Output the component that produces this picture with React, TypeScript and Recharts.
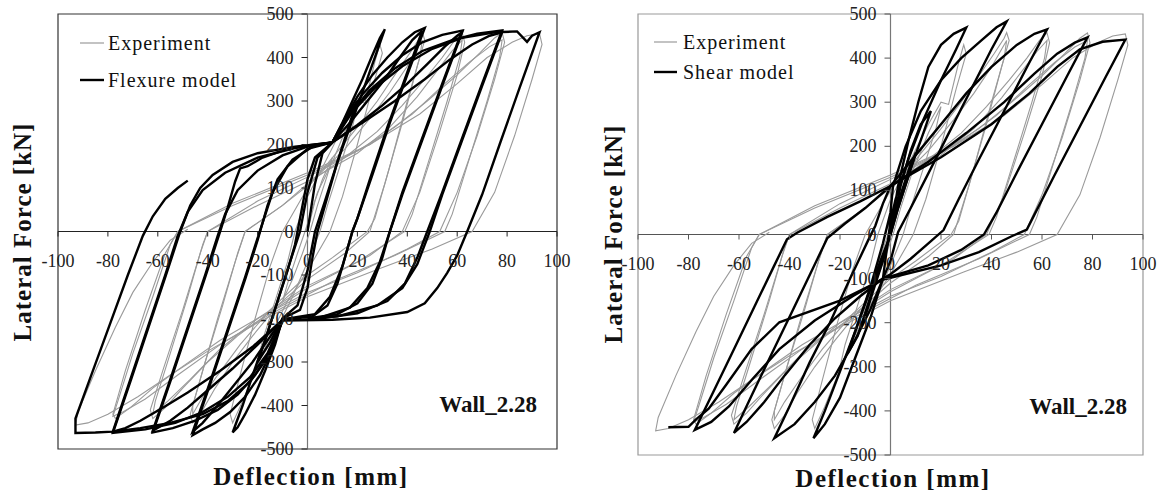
import { LineChart, Line, XAxis, YAxis, ReferenceLine, ReferenceArea } from 'recharts';

// ---------- axis ticks ----------
const X_TICKS = [-100, -80, -60, -40, -20, 0, 20, 40, 60, 80, 100];
const Y_TICKS = [-500, -400, -300, -200, -100, 0, 100, 200, 300, 400, 500];

// ---------- experiment (grey), same test in both panels ----------
const exp10 = [[0, 0], [3, 70], [6, 120], [10, 170], [8, 130], [4, 60], [1, 0], [-2, -50], [-6, -110], [-10, -160], [-8, -120], [-4, -50], [-1, 0]];
const exp20 = [[-1, 0], [4, 90], [10, 160], [15, 230], [20, 290], [18, 240], [13, 150], [8, 60], [5, 0], [0, -70], [-6, -150], [-12, -220], [-17, -270], [-20, -300], [-18, -250], [-13, -160], [-8, -70], [-5, 0]];
const exp30 = [[-5, 0], [0, 80], [8, 170], [15, 250], [20, 300], [23, 295], [27, 390], [29, 430], [30, 410], [26, 330], [20, 200], [14, 80], [9, 0], [0, -90], [-8, -160], [-15, -240], [-21, -320], [-26, -390], [-30, -440], [-31, -420], [-27, -330], [-21, -200], [-15, -80], [-10, 0]];
const exp46 = [[-10, 0], [0, 100], [10, 170], [20, 240], [28, 300], [35, 360], [41, 410], [45, 445], [46, 458], [47, 440], [44, 380], [38, 250], [31, 110], [25, 0], [15, -50], [0, -110], [-12, -170], [-22, -240], [-30, -300], [-37, -360], [-42, -410], [-46, -440], [-47, -420], [-43, -340], [-36, -200], [-29, -70], [-25, 0]];
const exp46b = [[-25, 0], [-10, 60], [0, 105], [15, 190], [25, 260], [33, 320], [40, 380], [44, 420], [46, 440], [45, 400], [40, 300], [33, 150], [27, 30], [24, 0], [10, -60], [0, -100], [-15, -180], [-27, -260], [-36, -330], [-42, -380], [-46, -420], [-46, -400], [-41, -300], [-34, -170], [-28, -50], [-25, 0]];
const exp62 = [[-25, 0], [-10, 60], [0, 110], [15, 170], [28, 230], [38, 290], [47, 350], [54, 400], [59, 440], [62, 457], [63, 435], [60, 360], [53, 230], [45, 90], [38, 0], [25, -55], [10, -100], [0, -130], [-15, -185], [-28, -240], [-40, -300], [-50, -360], [-57, -405], [-62, -430], [-63, -410], [-58, -320], [-50, -180], [-43, -50], [-40, 0]];
const exp62b = [[-40, 0], [-20, 60], [0, 115], [20, 180], [33, 240], [44, 310], [52, 370], [58, 415], [62, 440], [61, 400], [56, 300], [49, 170], [42, 40], [39, 0], [20, -70], [0, -125], [-20, -200], [-35, -270], [-47, -340], [-56, -390], [-62, -420], [-61, -390], [-55, -280], [-48, -150], [-42, -30], [-40, 0]];
const exp78 = [[-40, 0], [-20, 70], [0, 125], [20, 185], [35, 240], [48, 300], [60, 360], [69, 410], [75, 445], [78, 457], [79, 435], [75, 350], [68, 220], [60, 90], [53, 0], [40, -40], [20, -95], [0, -140], [-20, -200], [-35, -250], [-50, -310], [-62, -360], [-71, -405], [-77, -430], [-78, -420], [-73, -320], [-65, -180], [-57, -50], [-52, 0]];
const exp78b = [[-52, 0], [-30, 60], [0, 130], [25, 200], [42, 270], [55, 340], [65, 390], [73, 425], [78, 440], [77, 400], [72, 300], [65, 170], [58, 40], [55, 0], [35, -55], [10, -115], [-15, -190], [-35, -260], [-52, -330], [-65, -385], [-74, -415], [-78, -425], [-76, -390], [-70, -280], [-62, -150], [-55, -30], [-52, 0]];
const exp93 = [[-52, 0], [-30, 65], [0, 135], [25, 200], [45, 270], [60, 340], [72, 400], [82, 435], [88, 450], [93, 455], [94, 430], [90, 350], [83, 220], [75, 90], [66, 0], [50, -40], [29, -85], [0, -150], [-20, -210], [-40, -275], [-55, -330], [-68, -380], [-80, -420], [-88, -440], [-93, -445], [-92, -415], [-85, -320], [-77, -220], [-70, -140], [-62, -70], [-55, -20], [-48, 5]];
const experimentCycles = [exp10, exp20, exp30, exp46, exp46b, exp62, exp62b, exp78, exp78b, exp93];

// ---------- flexure model (left panel, black) ----------
const flex0 = [[0, 0], [3, 110], [6, 180], [10, 205]];
const flex20 = [[10, 205], [15, 255], [20, 300], [17, 250], [12, 160], [7, 70], [3, 0], [0, -90], [-4, -170], [-10, -200], [-15, -255], [-20, -300], [-17, -250], [-12, -160], [-7, -70], [-3, 0], [0, 90], [4, 170], [10, 205]];
const flex30 = [[10, 205], [14, 250], [18, 300], [22, 350], [26, 405], [29, 445], [31, 465], [27, 400], [22, 320], [17, 240], [12, 160], [8, 80], [5, 20], [4, 0], [2, -60], [0, -130], [-3, -180], [-10, -200], [-13, -260], [-17, -320], [-21, -375], [-25, -420], [-28, -450], [-30, -462], [-26, -400], [-22, -330], [-17, -250], [-12, -160], [-8, -90], [-5, -30], [-4, 0], [-2, 60], [0, 120], [3, 170], [10, 205]];
const flex46 = [[10, 205], [15, 260], [20, 310], [26, 360], [32, 400], [38, 435], [43, 458], [47, 468], [40, 360], [33, 250], [26, 130], [20, 30], [18, 0], [15, -60], [12, -120], [8, -170], [2, -195], [-10, -202], [-14, -270], [-19, -330], [-25, -380], [-31, -415], [-37, -440], [-42, -455], [-46, -468], [-39, -350], [-32, -230], [-25, -110], [-20, -20], [-19, 0], [-16, 60], [-12, 120], [-6, 165], [2, 195], [10, 205]];
const flex46b = [[10, 205], [17, 250], [24, 300], [31, 350], [37, 400], [42, 440], [46, 462], [39, 350], [32, 240], [25, 120], [20, 30], [18, 0], [14, -80], [9, -150], [3, -190], [-10, -202], [-16, -250], [-22, -300], [-29, -350], [-36, -400], [-42, -440], [-46, -460], [-39, -345], [-32, -225], [-25, -105], [-20, -15], [-18, 20], [-14, 90], [-8, 150], [0, 190], [10, 205]];
const flex62 = [[10, 205], [16, 265], [22, 315], [30, 365], [38, 405], [46, 435], [54, 452], [62, 462], [54, 340], [46, 215], [38, 90], [33, 0], [30, -60], [26, -120], [20, -165], [12, -190], [0, -200], [-10, -203], [-15, -275], [-21, -330], [-28, -375], [-36, -410], [-45, -435], [-54, -452], [-62, -462], [-55, -345], [-48, -225], [-41, -105], [-35, 0], [-32, 55], [-29, 115], [-27, 145], [-24, 150], [-18, 170], [-8, 190], [0, 198], [10, 205]];
const flex62b = [[10, 205], [20, 245], [30, 290], [40, 340], [48, 385], [55, 425], [60, 450], [62, 458], [54, 335], [46, 210], [38, 85], [33, 0], [29, -70], [24, -130], [17, -175], [5, -198], [-10, -203], [-20, -260], [-30, -315], [-40, -365], [-48, -405], [-55, -435], [-62, -458], [-55, -340], [-48, -220], [-41, -100], [-36, -10], [-33, 40], [-28, 95], [-20, 140], [-10, 175], [0, 195], [10, 205]];
const flex78 = [[10, 205], [17, 270], [25, 325], [35, 375], [46, 415], [58, 440], [68, 455], [78, 462], [70, 340], [62, 215], [54, 90], [48, 0], [44, -60], [39, -120], [32, -160], [20, -188], [5, -200], [-10, -203], [-16, -280], [-23, -335], [-32, -380], [-42, -415], [-53, -440], [-65, -455], [-78, -463], [-71, -345], [-64, -225], [-57, -105], [-51, 0], [-47, 60], [-43, 100], [-38, 130], [-30, 160], [-20, 180], [-5, 195], [10, 205]];
const flex78b = [[10, 205], [22, 250], [35, 300], [47, 350], [57, 395], [66, 430], [73, 450], [78, 458], [70, 335], [62, 210], [54, 85], [49, 0], [44, -75], [38, -130], [28, -170], [12, -195], [-10, -203], [-22, -265], [-35, -320], [-48, -370], [-58, -405], [-67, -435], [-73, -452], [-78, -460], [-71, -340], [-64, -220], [-57, -100], [-52, -10], [-48, 45], [-42, 95], [-33, 135], [-20, 170], [-5, 192], [10, 205]];
const flex93 = [[10, 205], [18, 275], [27, 330], [38, 380], [50, 420], [62, 445], [75, 458], [84, 460], [88, 436], [90, 450], [93, 458], [85, 330], [77, 200], [70, 85], [64, 0], [60, -55], [56, -95], [52, -130], [47, -165], [40, -185], [25, -198], [10, -203], [-10, -205], [-16, -290], [-23, -345], [-32, -390], [-42, -420], [-55, -440], [-67, -452], [-78, -460], [-85, -462], [-93, -463], [-93, -430], [-86, -320], [-79, -210], [-72, -100], [-66, -10], [-62, 35], [-57, 75], [-52, 100], [-48, 117]];
const flexureCycles = [flex0, flex20, flex30, flex46, flex46b, flex62, flex62b, flex78, flex78b, flex93];

// ---------- shear model (right panel, black) ----------
const shear10 = [[0, 0], [4, 90], [8, 160], [10, 185], [7, 130], [3, 60], [0, 0], [-3, -60], [-7, -130], [-10, -185], [-7, -130], [-3, -60], [0, 0]];
const shear20 = [[0, 0], [4, 110], [8, 190], [12, 250], [16, 280], [13, 230], [8, 150], [3, 60], [0, 0], [-4, -70], [-9, -160], [-13, -230], [-17, -270], [-14, -220], [-9, -140], [-4, -60], [0, 0]];
const shear30 = [[0, 0], [3, 110], [7, 210], [11, 300], [15, 380], [20, 430], [25, 455], [30, 469], [26, 420], [20, 350], [13, 260], [7, 170], [2, 80], [0, 30], [-3, -100], [-8, -190], [-14, -280], [-20, -370], [-26, -430], [-30.5, -462], [-26, -400], [-20, -310], [-14, -220], [-8, -120], [-3, -20], [0, 50], [1, 110]];
const shear46 = [[1, 110], [6, 200], [12, 280], [20, 350], [28, 400], [36, 440], [42, 470], [46, 483], [40, 420], [32, 330], [24, 240], [16, 150], [8, 60], [3, 5], [0, -60], [-3, -100], [-8, -170], [-15, -250], [-22, -320], [-30, -380], [-38, -430], [-46, -462], [-40, -390], [-32, -290], [-24, -200], [-16, -100], [-9, -15], [-6, 20], [-3, 70], [0, 110]];
const shear62 = [[0, 110], [10, 180], [20, 250], [30, 320], [40, 380], [50, 430], [57, 455], [62, 465], [55, 390], [45, 280], [35, 170], [27, 80], [21, 10], [15, -20], [8, -55], [0, -90], [-3, -100], [-12, -140], [-22, -190], [-32, -250], [-42, -320], [-50, -380], [-57, -425], [-62, -450], [-55, -365], [-47, -270], [-39, -175], [-31, -80], [-25, -8], [-18, 25], [-10, 60], [0, 110]];
const shear78 = [[0, 110], [15, 165], [30, 230], [45, 300], [57, 365], [66, 410], [73, 435], [78, 447], [70, 360], [60, 250], [50, 140], [42, 50], [37, 0], [28, -35], [15, -70], [0, -95], [-3, -100], [-15, -140], [-30, -195], [-44, -260], [-55, -330], [-64, -390], [-71, -425], [-77.5, -443], [-70, -355], [-62, -260], [-54, -165], [-46, -70], [-41, -11], [-37, 4], [-25, 40], [-12, 75], [0, 110]];
const shear93 = [[0, 110], [20, 175], [40, 250], [55, 320], [66, 380], [75, 420], [84, 437], [93, 442], [85, 355], [75, 245], [65, 135], [57, 45], [54, 11], [48, -4], [35, -40], [20, -70], [0, -98], [-3, -102], [-20, -150], [-44, -199], [-55, -260], [-65, -340], [-72, -395], [-77, -419], [-80, -436], [-88, -437]];
const shearCycles = [shear10, shear20, shear30, shear46, shear62, shear78, shear93];

const FONT = "'Liberation Serif', 'DejaVu Serif', Tinos, 'Nimbus Roman', 'FreeSerif', 'Noto Serif', Georgia, 'Times New Roman', serif";
const GREY = '#9a9a9a';

const toPoints = (arr: number[][]) => arr.map(([x, y]) => ({ x, y }));

function Panel({ left, width, margin, plotW, plotH, models, boxColor, axisColor }: any) {
  // the axes cross at the origin, so ticks are drawn at the zero lines
  const zeroX = margin.left + 30 + plotW / 2;
  const zeroY = margin.top + plotH / 2;

  const renderXTick = (props: any) => {
    const { x, payload } = props;
    return (
      <g key={'xt' + payload.value}>
        <line x1={x} x2={x} y1={zeroY} y2={zeroY + 5} stroke={axisColor} strokeWidth={1} />
        <text x={x} y={zeroY + 35} textAnchor="middle" fontFamily={FONT} fontSize={18} fill="#222">
          {payload.value}
        </text>
      </g>
    );
  };

  const renderYTick = (props: any) => {
    const { y, payload } = props;
    return (
      <g key={'yt' + payload.value}>
        <line x1={zeroX - 6} x2={zeroX} y1={y} y2={y} stroke={axisColor} strokeWidth={1} />
        <text x={zeroX - 14} y={y + 6} textAnchor="end" fontFamily={FONT} fontSize={18} fill="#222">
          {payload.value}
        </text>
      </g>
    );
  };

  return (
    <div style={{ position: 'absolute', left, top: 0 }}>
      <LineChart width={width} height={492} margin={margin}>
        <XAxis dataKey="x" type="number" domain={[-100, 100]} ticks={X_TICKS} interval={0} height={30}
          axisLine={false} tickLine={false} tick={renderXTick} allowDataOverflow />
        <YAxis type="number" domain={[-500, 500]} ticks={Y_TICKS} interval={0} width={30}
          axisLine={false} tickLine={false} tick={renderYTick} allowDataOverflow />
        <ReferenceArea x1={-100} x2={100} y1={-500} y2={500} fill="none" fillOpacity={0} stroke={boxColor} strokeWidth={1.2} />
        <ReferenceLine x={0} stroke="#777" strokeWidth={1.2} />
        <ReferenceLine y={0} stroke={axisColor} strokeWidth={1.2} />
        {experimentCycles.map((c, i) => (
          <Line key={'e' + i} data={toPoints(c)} dataKey="y" type="linear" stroke={GREY} strokeWidth={1.1}
            dot={false} activeDot={false} isAnimationActive={false} />
        ))}
        {models.map((c: number[][], i: number) => (
          <Line key={'m' + i} data={toPoints(c)} dataKey="y" type="linear" stroke="#000" strokeWidth={2.4}
            dot={false} activeDot={false} isAnimationActive={false} />
        ))}
      </LineChart>
    </div>
  );
}

export default function App() {
  return (
    <div style={{ position: 'absolute', left: 0, top: 0, width: 1163, height: 492, background: '#fff' }}>
      <Panel left={0} width={580} margin={{ top: 14, right: 23, bottom: 13, left: 28 }} plotW={499} plotH={435}
        models={flexureCycles} boxColor="#333" axisColor="#222" />
      <Panel left={580} width={583} margin={{ top: 14, right: 20, bottom: 7, left: 28 }} plotW={505} plotH={441}
        models={shearCycles} boxColor="#999" axisColor="#555" />

      <svg width={1163} height={492} style={{ position: 'absolute', left: 0, top: 0, pointerEvents: 'none' }}>
        <g fill="#111" fontFamily={FONT}>
          {/* left panel */}
          <line x1={80} x2={104} y1={43} y2={43} stroke={GREY} strokeWidth={1.2} />
          <text x={108} y={50} fontSize={20} letterSpacing={1}>Experiment</text>
          <line x1={80} x2={104} y1={80} y2={80} stroke="#000" strokeWidth={2.4} />
          <text x={108} y={87} fontSize={20} letterSpacing={1}>Flexure model</text>
          <text transform="translate(31,232) rotate(-90)" textAnchor="middle" fontSize={25} fontWeight="bold" letterSpacing={1}>Lateral Force [kN]</text>
          <text x={311} y={485} textAnchor="middle" fontSize={25} fontWeight="bold" letterSpacing={1.5}>Deflection [mm]</text>
          <text x={537} y={412} textAnchor="end" fontSize={23} fontWeight="bold">Wall_2.28</text>

          {/* right panel */}
          <line x1={654} x2={677} y1={42} y2={42} stroke={GREY} strokeWidth={1.2} />
          <text x={683} y={49} fontSize={20} letterSpacing={1}>Experiment</text>
          <line x1={654} x2={677} y1={72} y2={72} stroke="#000" strokeWidth={2.4} />
          <text x={683} y={79} fontSize={20} letterSpacing={1}>Shear model</text>
          <text transform="translate(622,234) rotate(-90)" textAnchor="middle" fontSize={25} fontWeight="bold" letterSpacing={1}>Lateral Force [kN]</text>
          <text x={893} y={487} textAnchor="middle" fontSize={25} fontWeight="bold" letterSpacing={1.5}>Deflection [mm]</text>
          <text x={1127} y={414} textAnchor="end" fontSize={23} fontWeight="bold">Wall_2.28</text>
        </g>
      </svg>
    </div>
  );
}
